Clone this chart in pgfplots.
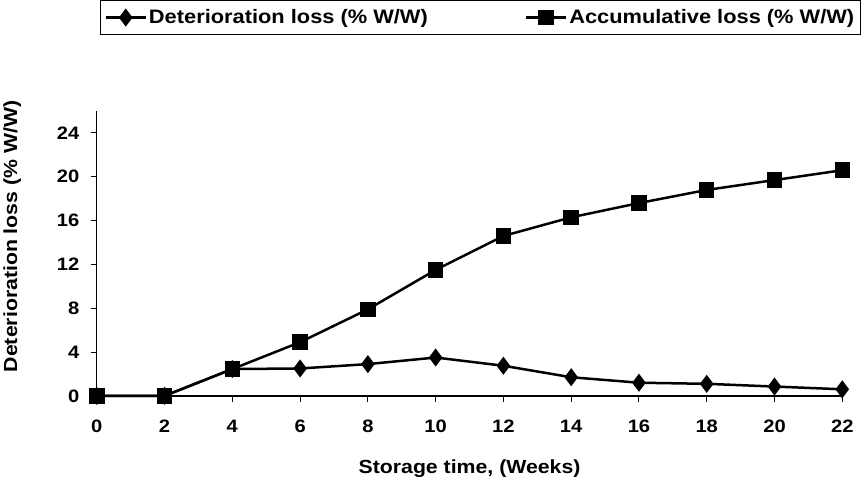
\documentclass[border=0pt]{standalone}
\usepackage{fontspec}
\setmainfont{Liberation Sans}[FakeStretch=1.12]
\usepackage{pgfplots}
\pgfplotsset{compat=1.18}
\begin{document}
\begin{tikzpicture}
\begin{axis}[
  scale only axis,
  width=746pt, height=285pt,
  xmin=0, xmax=22, ymin=0, ymax=26,
  axis lines=left,
  axis line style={-, line width=1.3pt},
  xtick={0,2,...,22}, ytick={0,4,...,24},
  tick align=outside,
  major tick length=6pt,
  tick style={line width=1pt, black},
  /pgf/number format/assume math mode=true,
  ticklabel style={font=\fontsize{18}{18}\selectfont\bfseries},
  yticklabel style={xshift=-8pt},
  xticklabel style={yshift=-15pt},
  xlabel={Storage time, (Weeks)},
  ylabel={Deterioration loss (\% W/W)},
  label style={font=\fontsize{19}{19}\selectfont\bfseries},
  xlabel style={yshift=-20pt},
  ylabel style={at={(ticklabel cs:0.56,29pt)}},
  legend style={draw, line width=1.5pt, at={(rel axis cs:0.004,1.39)}, anchor=north west,
    legend columns=2, font=\fontsize{19.5}{19.5}\selectfont\bfseries,
    inner xsep=4pt, inner ysep=7pt,
    /tikz/every even column/.append style={column sep=95pt}},
  legend image code/.code={\draw[mark repeat=2,mark phase=2,#1] plot coordinates {(0pt,0pt) (20pt,0pt) (40pt,0pt)};},
  clip=false,
]
\addplot[black, line width=2.5pt, mark=diamond*, mark size=7pt, mark options={solid}]
  coordinates {(0,0) (2,0) (4,2.45) (6,2.5) (8,2.9) (10,3.5) (12,2.75) (14,1.7) (16,1.2) (18,1.1) (20,0.85) (22,0.6)};
\addlegendentry{Deterioration loss (\% W/W)}
\addplot[black, line width=2.5pt, mark=square*, mark size=6.5pt]
  coordinates {(0,0) (2,0) (4,2.45) (6,4.9) (8,7.9) (10,11.5) (12,14.6) (14,16.3) (16,17.6) (18,18.8) (20,19.7) (22,20.6)};
\addlegendentry{Accumulative loss (\% W/W)}
\end{axis}
\end{tikzpicture}
\end{document}
